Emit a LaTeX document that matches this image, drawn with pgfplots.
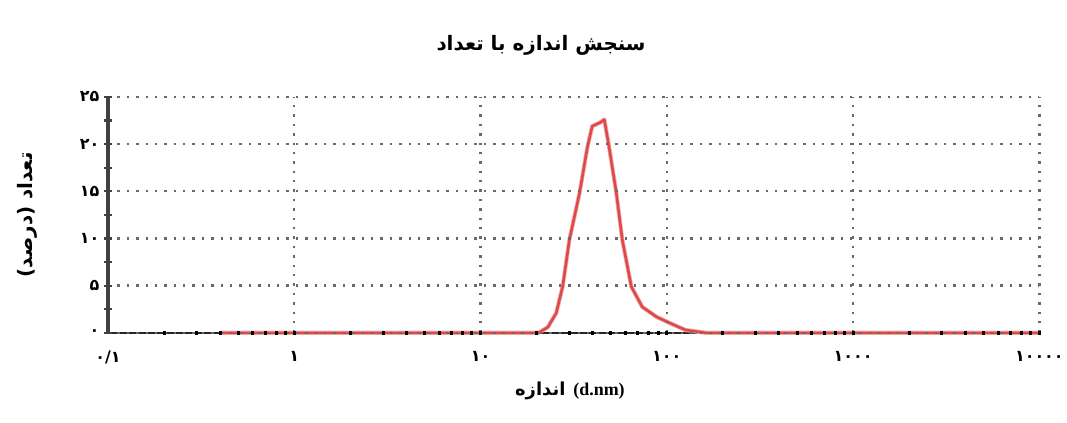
\documentclass[border=0pt]{standalone}
\usepackage{pgfplots}
\pgfplotsset{compat=1.18}
\usepackage{fontspec}
\setmainfont{Liberation Serif}
\newfontfamily\arabicfont[Script=Arabic]{DejaVu Sans}
\TeXXeTstate=1
\definecolor{curvered}{RGB}{222,74,74}
\definecolor{gridgray}{RGB}{105,105,105}
\definecolor{yaxisgray}{RGB}{65,65,65}
\begin{document}
\begin{tikzpicture}
\path (-108bp,-90bp) rectangle (959bp,333bp);
\begin{axis}[
  axis on top,
  at={(0,0)}, anchor=south west,
  scale only axis, width=932bp, height=236bp,
  xmode=log, xmin=0.1, xmax=10000, ymin=0, ymax=25,
  axis lines*=left,
  clip=false,
  xtick={0.1,1,10,100,1000,10000},
  xticklabels={{۰/۱},{۱},{۱۰},{۱۰۰},{۱۰۰۰},{۱۰۰۰۰}},
  minor xtick={0.2,0.3,0.4,0.5,0.6,0.7,0.8,0.9,1,2,3,4,5,6,7,8,9,10,20,30,40,50,60,70,80,90,100,200,300,400,500,600,700,800,900,1000,2000,3000,4000,5000,6000,7000,8000,9000,10000},
  ytick={0,5,10,15,20,25},
  yticklabels={{۰},{۵},{۱۰},{۱۵},{۲۰},{۲۵}},
  extra y ticks={2.5,7.5,12.5,17.5,22.5},
  extra y tick labels={},
  extra y tick style={grid=none, major y tick style={yaxisgray, line width=2.2bp}},
  tick align=center,
  major tick length=8bp, minor tick length=3.5bp,
  x axis line style={draw=none},
  y axis line style={yaxisgray, line width=3.5bp},
  major y tick style={yaxisgray, line width=2.2bp},
  major x tick style={draw=none},
  minor x tick style={black, line width=3bp},
  xmajorgrids, ymajorgrids,
  major grid style={gridgray, line width=2.4bp, dash pattern=on 2.4bp off 7bp},
  tick label style={font=\arabicfont\bfseries\fontsize{16}{18}\selectfont},
  xticklabel style={yshift=-11bp},
  yticklabel style={xshift=-1bp},
]
\addplot[black!85, line width=2.2bp] coordinates {(0.1,0) (10000,0)};
\addplot[curvered!45, line width=4.2bp, line join=round] coordinates {
 (0.4,0) (1,0) (10,0) (20.5,0) (23,0.6) (25.5,2.1) (27.6,4.9) (30,9.85) (34,14.8)
 (37.5,19.7) (39.8,21.9) (44,22.3) (46.2,22.6) (49,19.7) (53.6,14.8) (57.7,9.85)
 (64.5,4.9) (73.8,2.75) (87.9,1.7) (103,1.06) (126,0.3) (162,0) (1000,0) (10000,0)};
\addplot[curvered, line width=2.6bp, line join=round] coordinates {
 (0.4,0) (1,0) (10,0) (20.5,0) (23,0.6) (25.5,2.1) (27.6,4.9) (30,9.85) (34,14.8)
 (37.5,19.7) (39.8,21.9) (44,22.3) (46.2,22.6) (49,19.7) (53.6,14.8) (57.7,9.85)
 (64.5,4.9) (73.8,2.75) (87.9,1.7) (103,1.06) (126,0.3) (162,0) (1000,0) (10000,0)};
\node[font=\arabicfont\bfseries\fontsize{20}{22}\selectfont, anchor=center]
  at (axis description cs:0.465,1.22) {\beginR سنجش اندازه با تعداد\endR};
\node[font=\arabicfont\bfseries\fontsize{20}{22}\selectfont, anchor=center, rotate=90]
  at (axis description cs:-0.086,0.5) {\beginR تعداد (درصد)\endR};
\node[anchor=center]
  at (axis description cs:0.496,-0.245) {{\arabicfont\bfseries\fontsize{18}{20}\selectfont اندازه}\hspace{8bp}{\bfseries\fontsize{18}{20}\selectfont (d.nm)}};
\end{axis}
\end{tikzpicture}
\end{document}
